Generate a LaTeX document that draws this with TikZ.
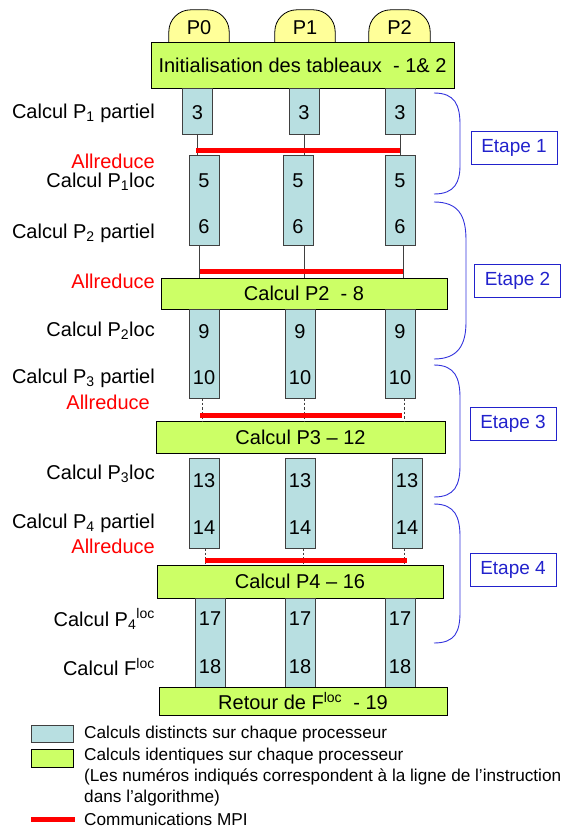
\documentclass[tikz,border=0pt]{standalone}
\usepackage{fontspec}
\setmainfont{Liberation Sans}
\definecolor{cblue}{HTML}{B8DFE1}
\definecolor{cgreen}{HTML}{CCFF66}
\definecolor{cyel}{HTML}{FFFF99}
\definecolor{cbord}{HTML}{404040}
\definecolor{etblue}{HTML}{2222CC}
\definecolor{brblue}{HTML}{3333DD}
\tikzset{
  bluebox/.style={draw=cbord, line width=0.9pt, fill=cblue, minimum width=30pt, inner sep=0pt},
  greenbox/.style={draw=black, line width=0.9pt, fill=cgreen, inner sep=0pt, font=\fontsize{20}{24}\selectfont},
  num/.style={inner sep=0pt, font=\fontsize{20}{24}\selectfont},
  lab/.style={anchor=east, inner sep=0pt, font=\fontsize{20}{24}\selectfont},
  redlab/.style={lab, text=red},
  link/.style={draw=cbord, line width=0.7pt},
  dlink/.style={draw=cbord, line width=0.7pt, dash pattern=on 2.5pt off 2pt},
  mpi/.style={draw=red, line width=5pt},
  brace/.style={draw=brblue, line width=0.9pt},
  etape/.style={draw=etblue, line width=0.9pt, text=etblue, minimum width=86pt, minimum height=33pt, inner sep=0pt, font=\fontsize{19}{23}\selectfont},
  legtext/.style={anchor=west, inner sep=0pt, font=\fontsize{17.2}{21}\selectfont},
}
\begin{document}
\begin{tikzpicture}[x=1pt, y=-1pt]
\path[use as bounding box] (0,0) rectangle (577,829);

% processor tabs
\foreach \n/\x/\w in {0/199/60, 1/305/60, 2/399.5/61}{
  \node[minimum width=\w pt, minimum height=32pt, inner sep=0pt] (t\n) at (\x,26) {};
  \filldraw[fill=cyel, draw=black, line width=0.8pt, rounded corners=22pt]
    (t\n.south west) -- (t\n.north west) -- (t\n.north east) -- (t\n.south east);
  \node[num] (tl\n) at (\x,28) {P\n};
}

% init box
\node[greenbox, minimum width=303pt, minimum height=46pt] (init) at (302.5,65) {Initialisation des tableaux\ \ - 1\& 2};

% step 1: boxes 3
\node[bluebox, minimum height=46pt] (a3) at (197.5,111) {};
\node[bluebox, minimum height=46pt] (b3) at (304,111) {};
\node[bluebox, minimum height=46pt] (c3) at (400,111) {};
% boxes 5/6
\node[bluebox, minimum height=90pt] (a5) at (204,200) {};
\node[bluebox, minimum height=90pt] (b5) at (298,200) {};
\node[bluebox, minimum height=90pt] (c5) at (400,200) {};

\draw[link] (a3.south) -- (a3.south |- a5.north);
\draw[link] (b3.south) -- (b3.south |- b5.north);
\draw[link] (c3.south) -- (c3.south |- c5.north);
\coordinate (r1a) at (196,151); \coordinate (r1b) at (400,151);
\draw[mpi] (r1a) -- (r1b);

% Calcul P2 box
\node[greenbox, minimum width=286pt, minimum height=31pt] (cp2) at (304,293.5) {Calcul P2\ \ - 8};
\draw[link] (199,245) coordinate (l2a) -- (l2a |- cp2.north);
\draw[link] (304,245) coordinate (l2b) -- (l2b |- cp2.north);
\draw[link] (403,245) coordinate (l2c) -- (l2c |- cp2.north);
\coordinate (r2a) at (200,271); \coordinate (r2b) at (403,271);
\draw[mpi] (r2a) -- (r2b);

% boxes 9/10
\node[bluebox, minimum height=89pt] (a9) at (204,353.5) {};
\node[bluebox, minimum height=89pt] (b9) at (300,353.5) {};
\node[bluebox, minimum height=89pt] (c9) at (400,353.5) {};

% Calcul P3 box
\node[greenbox, minimum width=289pt, minimum height=32pt] (cp3) at (300.5,437) {Calcul P3 – 12};
\draw[dlink] (202,398) coordinate (l3a) -- (l3a |- cp3.north);
\draw[dlink] (304,398) coordinate (l3b) -- (l3b |- cp3.north);
\draw[dlink] (404,398) coordinate (l3c) -- (l3c |- cp3.north);
\coordinate (r3a) at (200,415); \coordinate (r3b) at (402,415);
\draw[mpi] (r3a) -- (r3b);

% boxes 13/14
\node[bluebox, minimum height=90pt] (a13) at (204,503) {};
\node[bluebox, minimum height=90pt] (b13) at (300,503) {};
\node[bluebox, minimum height=90pt] (c13) at (407,503) {};

% Calcul P4 box
\node[greenbox, minimum width=286pt, minimum height=33pt] (cp4) at (300,581.5) {Calcul P4 – 16};
\draw[dlink] (205,548) coordinate (l4a) -- (l4a |- cp4.north);
\draw[dlink] (303,548) coordinate (l4b) -- (l4b |- cp4.north);
\draw[dlink] (404,548) coordinate (l4c) -- (l4c |- cp4.north);
\coordinate (r4a) at (205,560); \coordinate (r4b) at (407,560);
\draw[mpi] (r4a) -- (r4b);

% boxes 17/18
\node[bluebox, minimum height=89pt] (a17) at (210,642.5) {};
\node[bluebox, minimum height=89pt] (b17) at (300,642.5) {};
\node[bluebox, minimum height=89pt] (c17) at (400,642.5) {};

% Retour box
\node[greenbox, minimum width=288pt, minimum height=28pt] (ret) at (303,701) {Retour de F\textsuperscript{loc}\ \ - 19};

% numbers
\foreach \c/\x in {a/197.5, b/304, c/400}{ \node[num] (n3\c) at (\x,113) {3}; }
\foreach \c/\x in {a/204, b/298, c/400}{ \node[num] (n5\c) at (\x,181) {5}; \node[num] (n6\c) at (\x,227) {6}; }
\foreach \c/\x in {a/204, b/300, c/400}{ \node[num] (n9\c) at (\x,332) {9}; \node[num] (n10\c) at (\x,378) {10}; }
\foreach \c/\x in {a/204, b/300, c/407}{ \node[num] (n13\c) at (\x,481) {13}; \node[num] (n14\c) at (\x,528) {14}; }
\foreach \c/\x in {a/210, b/300, c/400}{ \node[num] (n17\c) at (\x,619) {17}; \node[num] (n18\c) at (\x,667) {18}; }

% left labels
\node[lab] (L1) at (155,113) {Calcul P\textsubscript{1} partiel};
\node[redlab] (A1) at (155,161) {Allreduce};
\node[lab] (L2) at (155,182) {Calcul P\textsubscript{1}loc};
\node[lab] (L3) at (155,233) {Calcul P\textsubscript{2} partiel};
\node[redlab] (A2) at (155,281) {Allreduce};
\node[lab] (L4) at (155,331) {Calcul P\textsubscript{2}loc};
\node[lab] (L5) at (155,378) {Calcul P\textsubscript{3} partiel};
\node[redlab] (A3) at (150,402) {Allreduce};
\node[lab] (L6) at (155,474) {Calcul P\textsubscript{3}loc};
\node[lab] (L7) at (155,523) {Calcul P\textsubscript{4} partiel};
\node[redlab] (A4) at (155,546) {Allreduce};
\node[lab] (L8) at (155,619) {Calcul P\textsubscript{4}\textsuperscript{loc}};
\node[lab] (L9) at (155,667) {Calcul F\textsuperscript{loc}};

% braces
\draw[brace] (434,93) .. controls (455,93) and (460,105) .. (460,125) -- (460,165) .. controls (460,182) and (455,194) .. (434,194);
\draw[brace] (434,202) .. controls (458,202) and (466,215) .. (466,240) -- (466,322) .. controls (466,345) and (458,359) .. (434,359);
\draw[brace] (434,365) .. controls (455,365) and (460,378) .. (460,398) -- (460,465) .. controls (460,485) and (455,497) .. (434,497);
\draw[brace] (434,504) .. controls (455,504) and (460,517) .. (460,537) -- (460,612) .. controls (460,632) and (455,643) .. (434,643);

% etapes
\node[etape] (e1) at (514,147.5) {Etape 1};
\node[etape] (e2) at (517.5,280.5) {Etape 2};
\node[etape] (e3) at (513,423.5) {Etape 3};
\node[etape] (e4) at (513,569.5) {Etape 4};

% legend
\node[bluebox, minimum width=42pt, minimum height=17pt] (lg1) at (52,733.5) {};
\node[greenbox, minimum width=42pt, minimum height=18pt] (lg2) at (52,758) {};
\coordinate (lg3a) at (31,819.5); \coordinate (lg3b) at (75,819.5);
\draw[mpi] (lg3a) -- (lg3b);
\node[legtext] (lt1) at (84,734) {Calculs distincts sur chaque processeur};
\node[legtext] (lt2) at (84,756) {Calculs identiques sur chaque processeur};
\node[legtext] (lt3) at (84,777) {(Les numéros indiqués correspondent à la ligne de l’instruction};
\node[legtext] (lt4) at (84,798) {dans l’algorithme)};
\node[legtext] (lt5) at (84,819) {Communications MPI};
\end{tikzpicture}
\end{document}
